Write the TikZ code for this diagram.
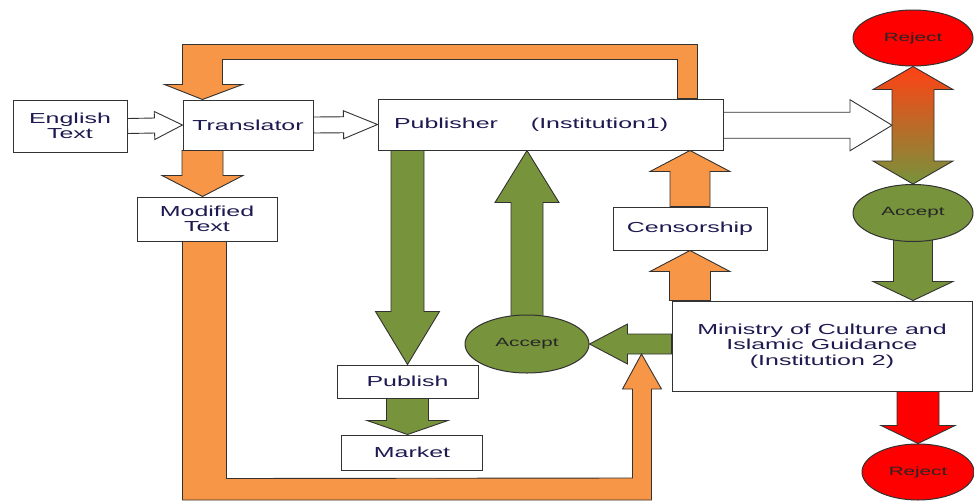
\documentclass[tikz,border=0pt]{standalone}
\usepackage{fontspec}
\usetikzlibrary{calc,shapes.geometric,backgrounds}
\newfontfamily\boxfont{Liberation Sans}[FakeStretch=1.72]
\definecolor{myorange}{RGB}{247,150,70}
\definecolor{myolive}{RGB}{119,147,60}
\definecolor{myred}{RGB}{255,0,0}
\definecolor{redor}{RGB}{255,66,20}
\definecolor{navy}{RGB}{30,25,80}
\definecolor{edge}{RGB}{50,50,50}
% block arrow: style, from, to, shaft half width, head half width, head length
\newcommand\blockarrow[6]{%
  \coordinate (bahb) at ($(#3)!#6!(#2)$);
  \path[#1] ($(#2)!#4!90:(#3)$) -- ($(bahb)!#4!90:(#3)$) -- ($(bahb)!#5!90:(#3)$)
    -- (#3) -- ($(bahb)!#5!-90:(#3)$) -- ($(bahb)!#4!-90:(#3)$) -- ($(#2)!#4!-90:(#3)$) -- cycle;
}
% double headed block arrow
\newcommand\dblarrow[6]{%
  \coordinate (dahA) at ($(#2)!#6!(#3)$);
  \coordinate (dahB) at ($(#3)!#6!(#2)$);
  \path[#1] (#2) -- ($(dahA)!#5!90:(#3)$) -- ($(dahA)!#4!90:(#3)$) -- ($(dahB)!#4!90:(#3)$)
    -- ($(dahB)!#5!90:(#3)$) -- (#3) -- ($(dahB)!#5!-90:(#3)$) -- ($(dahB)!#4!-90:(#3)$)
    -- ($(dahA)!#4!-90:(#3)$) -- ($(dahA)!#5!-90:(#3)$) -- cycle;
}
\begin{document}
\begin{tikzpicture}[x=1pt,y=-1pt,
  box/.style={draw=edge, line width=1pt, fill=white, inner sep=0pt,
    font=\boxfont\fontsize{14.5}{15.5}\selectfont, text=navy, align=center},
  oval/.style={ellipse, draw=edge, line width=1pt, inner sep=0pt,
    font=\boxfont\fontsize{12}{13}\selectfont, text=black!85},
  arr/.style={draw=edge, line width=0.9pt, line join=miter}]
\useasboundingbox (0,0) rectangle (974,501);

% boxes
\node[box, minimum width=114pt, minimum height=52pt] (eng) at (70,126) {English\\Text};
\node[box, minimum width=130pt, minimum height=50pt] (trans) at (248,125) {Translator};
\node[box, minimum height=51pt, text width=313pt, inner xsep=16pt, align=left] (pub) at (550.5,124.5) {Publisher\hspace{33pt}(Institution1)};
\node[box, minimum width=140pt, minimum height=44pt] (mod) at (207,219) {Modified\\Text};
\node[box, minimum width=154pt, minimum height=43pt] (cens) at (690,228.5) {Censorship};
\node[box, minimum width=300pt, minimum height=90pt] (mins) at (822,346) {Ministry of Culture and\\Islamic Guidance\\(Institution 2)};
\node[box, minimum width=141pt, minimum height=33pt] (publ) at (407.5,381.5) {Publish};
\node[box, minimum width=141pt, minimum height=35pt] (mkt) at (412,452.5) {Market};

% ovals
\node[oval, fill=myolive, minimum width=124pt, minimum height=58pt] (accM) at (527,344) {Accept};
\node[oval, fill=myred, minimum width=120pt, minimum height=56pt] (rejT) at (913,38) {Reject};
\node[oval, fill=myolive, minimum width=120pt, minimum height=57pt] (accR) at (913,213) {Accept};
\node[oval, fill=myred, minimum width=112pt, minimum height=56pt] (rejB) at (918,472) {Reject};

\begin{pgfonlayer}{background}
% white arrows
\blockarrow{arr,fill=white}{eng.east}{trans.west}{7.5pt}{14pt}{28pt}
\blockarrow{arr,fill=white}{trans.east}{pub.west}{8pt}{14pt}{34pt}
\coordinate (dblmid) at ($(rejT.south)!0.5!(accR.north)$);
\coordinate (dbltip) at ($(dblmid)+(-21,0)$);
\coordinate (pubE) at (pub.east |- dbltip);
\blockarrow{arr,fill=white}{pubE}{dbltip}{13pt}{25.5pt}{42pt}
% double arrow reject/accept
\dblarrow{arr,top color=redor,bottom color=myolive}{rejT.south}{accR.north}{21pt}{40pt}{23pt}
% right column
\coordinate (minsN) at (accR.south |- mins.north);
\blockarrow{arr,fill=myolive}{accR.center}{minsN}{19.5pt}{40pt}{19pt}
\coordinate (minsS) at (rejB.north |- mins.south);
\blockarrow{arr,fill=myred}{minsS}{rejB.north}{21pt}{37pt}{18pt}
% orange arrows
\coordinate (transS) at ($(trans.south west)+(20,0)$);
\coordinate (modN) at (transS |- mod.north);
\blockarrow{arr,fill=myorange}{transS}{modN}{20.5pt}{40.5pt}{21pt}
\coordinate (minsNc) at (cens.south |- mins.north);
\blockarrow{arr,fill=myorange}{minsNc}{cens.south}{20.5pt}{40pt}{21pt}
\coordinate (pubSc) at (cens.north |- pub.south);
\blockarrow{arr,fill=myorange}{cens.north}{pubSc}{20pt}{40pt}{21pt}
% top orange loop: publisher -> translator
\coordinate (loopS) at ($(pub.north east)+(-36,0)$);
\coordinate (loopT) at ($(trans.north west)+(20,0)$);
\path[arr,fill=myorange] ($(loopS)+(10,0)$) -- ($(loopS)+(10,-54)$) -- ($(loopT)+(-20,-55)$)
  -- ($(loopT)+(-20,-15)$) -- ($(loopT)+(-38,-15)$) -- (loopT) -- ($(loopT)+(40,-15)$)
  -- ($(loopT)+(20,-15)$) -- ($(loopT)+(20,-40)$) -- ($(loopS)+(-10,-39)$) -- ($(loopS)+(-10,0)$) -- cycle;
% green arrows
\coordinate (pubSp) at (publ.north |- pub.south);
\blockarrow{arr,fill=myolive}{pubSp}{publ.north}{16.5pt}{32pt}{53pt}
\coordinate (mktN) at (publ.south |- mkt.north);
\blockarrow{arr,fill=myolive}{publ.south}{mktN}{21pt}{40.5pt}{14pt}
\coordinate (pubSa) at (accM.north |- pub.south);
\blockarrow{arr,fill=myolive}{accM.center}{pubSa}{16pt}{32pt}{52pt}
\coordinate (minsW) at (mins.west |- accM.east);
\blockarrow{arr,fill=myolive}{minsW}{accM.east}{10pt}{20pt}{38pt}
% bottom orange loop: modified text -> ministry
\coordinate (loopU) at ($(mod.south west)+(68,0)$);
\coordinate (loopV) at ($(minsW)+(-30,10)$);
\path[arr,fill=myorange] ($(loopU)+(-22,0)$) -- ($(loopU)+(-22,258.5)$) -- ($(loopV)+(10,146)$)
  -- ($(loopV)+(10,35)$) -- ($(loopV)+(20,35)$) -- (loopV) -- ($(loopV)+(-19,35)$)
  -- ($(loopV)+(-9,35)$) -- ($(loopV)+(-9,124)$) -- ($(loopU)+(22,237)$) -- ($(loopU)+(22,0)$) -- cycle;
\end{pgfonlayer}
\end{tikzpicture}
\end{document}
